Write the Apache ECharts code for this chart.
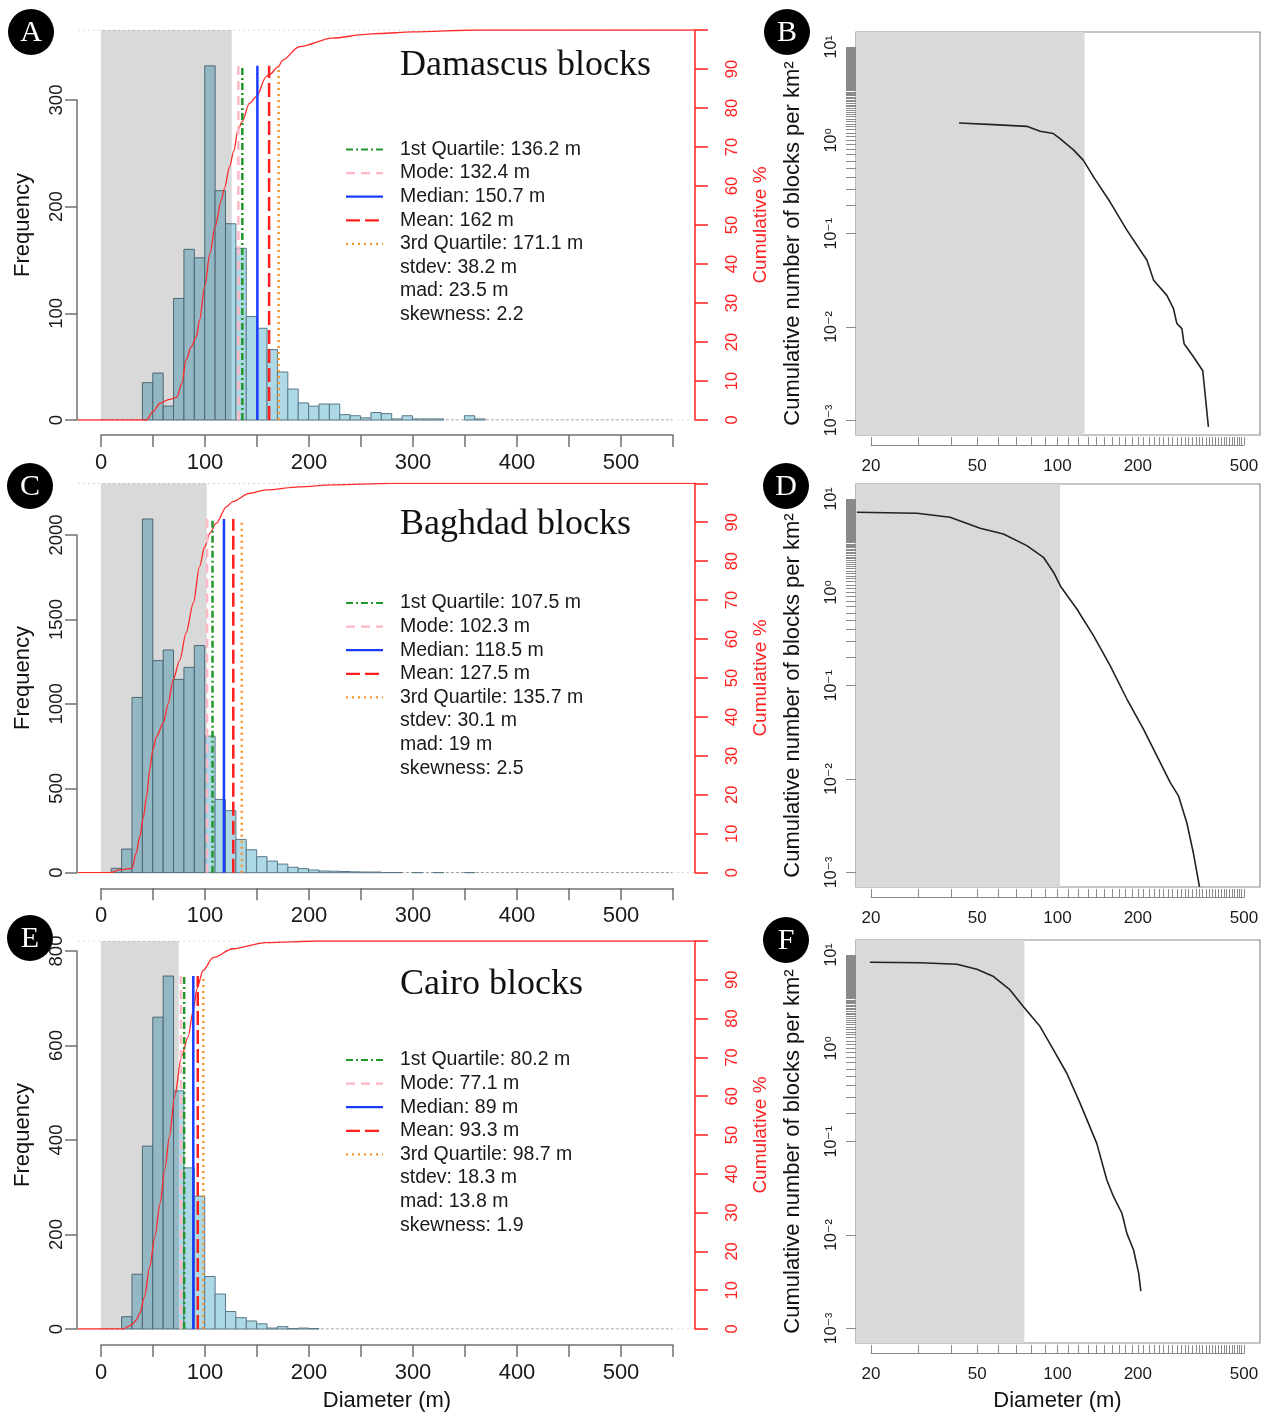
<!DOCTYPE html>
<html>
<head>
<meta charset="utf-8">
<title>Block diameter distributions</title>
<script src="https://cdn.jsdelivr.net/npm/echarts@6.0.0/dist/echarts.min.js"></script>
<style>
  html, body { margin: 0; padding: 0; background: #fff; }
  #chart { width: 1266px; height: 1414px; }
</style>
</head>
<body>
<div id="chart"></div>
<script>
// ---------- values ----------
const binWidth = 10;

const damascusBinStart = 40;
const damascusCounts = [35, 44, 13, 114, 160, 152, 332, 215, 184, 161, 97, 86, 66, 45, 29, 16, 13, 15, 15, 5, 4, 2, 7, 6, 1, 4, 1, 1, 1, 0, 0, 4, 1];
const baghdadBinStart = 10;
const baghdadCounts = [26, 140, 1038, 2095, 1256, 1319, 1145, 1216, 1345, 809, 434, 367, 197, 136, 95, 69, 51, 32, 24, 16, 10, 9, 7, 5, 4, 4, 1, 1, 0, 1, 0, 1, 0, 0, 1];
const cairoBinStart = 20;
const cairoCounts = [26, 116, 387, 660, 747, 504, 341, 281, 111, 74, 37, 24, 17, 11, 2, 5, 1, 2, 1];

const statNames = ['1st Quartile', 'Mode', 'Median', 'Mean', '3rd Quartile'];
const damascusStats = [136.2, 132.4, 150.7, 162, 171.1];
const baghdadStats = [107.5, 102.3, 118.5, 127.5, 135.7];
const cairoStats = [80.2, 77.1, 89, 93.3, 98.7];

const spreadNames = ['stdev', 'mad', 'skewness'];
const damascusSpread = ['38.2 m', '23.5 m', '2.2'];
const baghdadSpread = ['30.1 m', '19 m', '2.5'];
const cairoSpread = ['18.3 m', '13.8 m', '1.9'];

// upper end of the shaded diameter range (m)
const greyLimit = [126, 102, 75];

// cumulative % curves [diameter, percent]
const damascusCum = [[-22, 0], [44, 0], [50, 2.1], [57, 4.3], [66, 5.3], [73, 5.8], [78, 9.4], [82, 15.4], [87, 18.8], [92, 21.4], [95, 25.6], [100, 34.2], [105, 42.7], [110, 49.6], [116, 56.4], [119, 59.4], [124, 65], [128, 69], [132, 74.4], [136, 76.5], [143, 81.2], [150, 83], [159, 88], [162, 88.5], [171, 90.6], [175, 92.3], [191, 95.7], [223, 97.9], [255, 98.9], [268, 99.1], [300, 99.5], [364, 100], [572, 100]];
const baghdadCum = [[-22, 0], [9, 0], [18, 0.7], [30, 1.1], [34, 5], [37.5, 9.3], [41, 14.4], [44, 19.5], [47, 26.4], [50, 31.5], [53.5, 34.9], [60, 38.4], [65, 43.5], [69.5, 49.5], [76, 54.6], [82, 61.5], [89, 69.2], [95, 78.6], [100, 83.7], [105, 87.2], [111, 89.7], [121, 94], [127, 95.3], [143, 97.4], [159, 98.3], [191, 99.1], [223, 99.6], [280, 100], [572, 100]];
const cairoCum = [[-22, 0], [21, 0], [29.5, 1], [34, 2.3], [37.5, 4], [42, 8.3], [47, 16], [52, 23.8], [57, 32.4], [61.5, 41], [66, 49.6], [71, 59.9], [77.6, 70.2], [84, 75.3], [89, 82.2], [92.6, 87.8], [98.4, 92.4], [108, 95.7], [127, 98], [159, 99.6], [210, 100], [572, 100]];

// cumulative number of blocks per km2 [diameter, density]
const damascusDensity = [[42.7, 1.53], [57.4, 1.47], [76.6, 1.41], [85.9, 1.25], [96.3, 1.18], [102, 1.04], [114.5, 0.79], [124.8, 0.61], [136.1, 0.405], [157.1, 0.218], [181.5, 0.109], [215.8, 0.0518], [228.6, 0.0316], [256.2, 0.0218], [271.3, 0.0157], [279.3, 0.0109], [291.6, 0.0096], [297.3, 0.0066], [322.2, 0.0048], [349.2, 0.0034], [366.6, 0.00085]];
const baghdadDensity = [[17.7, 7.2], [29.7, 7.02], [39.5, 6.36], [51.2, 4.85], [62.6, 4.22], [76.6, 3.16], [88.4, 2.37], [96.4, 1.64], [103, 1.13], [117.9, 0.662], [136.1, 0.343], [157.1, 0.164], [181.5, 0.0719], [209.4, 0.0343], [241.8, 0.0151], [263.6, 0.0092], [283.2, 0.0066], [304.3, 0.0034], [322.2, 0.0016], [339.5, 0.0007]];
const cairoDensity = [[19.8, 8.34], [30.5, 8.26], [41.9, 7.94], [49.8, 7.02], [57.5, 5.86], [66.3, 4.22], [74.4, 2.79], [85.9, 1.71], [96.4, 0.96], [108.1, 0.54], [121.3, 0.257], [140, 0.0959], [152.7, 0.0388], [161.8, 0.0257], [173.9, 0.0171], [181.5, 0.0104], [192.3, 0.0069], [200.9, 0.0039], [204.7, 0.0025]];

// tick labels
const densityXLabels = [20, 50, 100, 200, 500];
const densityYLabels = [0.001, 0.01, 0.1, 1, 10];
const densityXTicks = [];
for (let d = 20; d <= 500; d += 10) densityXTicks.push(d);
const densityYTicks = [0.001, 0.01, 0.1];
for (let k = 2; k <= 100; k++) densityYTicks.push(k / 10);
const supers = { '-3': '⁻³', '-2': '⁻²', '-1': '⁻¹', '0': '⁰', '1': '¹' };

// ---------- styles ----------
const SANS = '"Liberation Sans", Arial, "DejaVu Sans", sans-serif';
const SERIF = '"Liberation Serif", "Times New Roman", serif';
const statColors = ['#23962a', '#ffb8c6', '#1a3cff', '#ff1e1e', '#f5962a'];
const statDash = [[7, 3, 2, 3], [9, 6], 'solid', [14, 5], [2, 4]];

const histPanels = [
  { title: 'Damascus blocks', start: damascusBinStart, counts: damascusCounts, stats: damascusStats, spread: damascusSpread, cum: damascusCum, grey: greyLimit[0],
    plotTop: 30, base: 420, tickTop: 300, tickStep: 100, tickTopY: 100, xOff: 15, titleY: 66, legendY: 149.5 },
  { title: 'Baghdad blocks', start: baghdadBinStart, counts: baghdadCounts, stats: baghdadStats, spread: baghdadSpread, cum: baghdadCum, grey: greyLimit[1],
    plotTop: 483.3, base: 872.7, tickTop: 2000, tickStep: 500, tickTopY: 535, xOff: 15.6, titleY: 525, legendY: 603 },
  { title: 'Cairo blocks', start: cairoBinStart, counts: cairoCounts, stats: cairoStats, spread: cairoSpread, cum: cairoCum, grey: greyLimit[2],
    plotTop: 941, base: 1329, tickTop: 800, tickStep: 200, tickTopY: 951, xOff: 16, titleY: 985, legendY: 1060 }
];
const densityPanels = [
  { data: damascusDensity, grey: greyLimit[0], top: 32 },
  { data: baghdadDensity, grey: greyLimit[1], top: 484 },
  { data: cairoDensity, grey: greyLimit[2], top: 940 }
];

const grids = [], xAxes = [], yAxes = [], series = [], graphics = [];
function addGrid(g) { grids.push(Object.assign({ containLabel: false, outerBoundsMode: 'none' }, g)); return grids.length - 1; }
function addX(a) { xAxes.push(a); return xAxes.length - 1; }
function addY(a) { yAxes.push(a); return yAxes.length - 1; }
const hidden = { axisLine: { show: false }, axisTick: { show: false }, axisLabel: { show: false }, splitLine: { show: false } };

// ---------- histogram panels ----------
histPanels.forEach(function (p, i) {
  const freqMax = p.tickTop * (p.base - p.plotTop) / (p.base - p.tickTopY);
  const gPlot = addGrid({ left: 78, top: p.plotTop, width: 617, height: p.base - p.plotTop });
  const xPlot = addX(Object.assign({ gridIndex: gPlot, type: 'value', min: -22, max: 572 }, hidden));
  const yFreq = addY(Object.assign({ gridIndex: gPlot, type: 'value', position: 'left', min: 0, max: freqMax,
    name: 'Frequency', nameLocation: 'middle', nameRotate: 90, nameGap: 44, nameMoveOverlap: false,
    nameTextStyle: { fontFamily: SANS, fontSize: 22, color: '#111' } }, hidden));
  const yCum = addY({ gridIndex: gPlot, type: 'value', position: 'right', min: 0, max: 100, interval: 10,
    axisLine: { show: true, onZero: false, lineStyle: { color: '#ff2020', width: 1.5 } },
    axisTick: { show: true, length: 13, lineStyle: { color: '#ff2020', width: 1.5 } },
    axisLabel: { rotate: 90, margin: 29, fontFamily: SANS, fontSize: 16.5, color: '#ff2020', hideOverlap: false,
      formatter: function (v) { return v === 100 ? '' : String(v); } },
    splitLine: { show: false },
    name: 'Cumulative %', nameLocation: 'middle', nameRotate: 90, nameGap: 56, nameMoveOverlap: false,
    nameTextStyle: { fontFamily: SANS, fontSize: 19, color: '#ff2020' } });

  // axes drawn R style: detached from the plot region
  const gAx = addGrid({ left: 101, width: 572, top: p.tickTopY, height: p.base - p.tickTopY });
  addX({ gridIndex: gAx, type: 'value', min: 0, max: 550, interval: 50, offset: p.xOff,
    axisLine: { onZero: false, lineStyle: { color: '#707070', width: 1.5 } },
    axisTick: { length: 12, lineStyle: { color: '#707070', width: 1.5 } },
    axisLabel: { margin: 17, fontFamily: SANS, fontSize: 22, color: '#1a1a1a', hideOverlap: false,
      formatter: function (v) { return (v % 100 === 0 && v <= 500) ? String(v) : ''; } },
    splitLine: { show: false },
    name: i === 2 ? 'Diameter (m)' : '', nameLocation: 'middle', nameGap: 45, nameMoveOverlap: false,
    nameTextStyle: { fontFamily: SANS, fontSize: 22, color: '#111' } });
  addY({ gridIndex: gAx, type: 'value', min: 0, max: p.tickTop, interval: p.tickStep, offset: 24,
    axisLine: { show: true, onZero: false, lineStyle: { color: '#707070', width: 1.5 } },
    axisTick: { show: true, length: 12, lineStyle: { color: '#707070', width: 1.5 } },
    axisLabel: { rotate: 90, margin: 11, fontFamily: SANS, fontSize: 18.5, color: '#1a1a1a', hideOverlap: false,
      formatter: function (v) { return String(v); } },
    splitLine: { show: false } });

  // zero baseline of the empty bins and faint guides
  series.push({ type: 'line', xAxisIndex: xPlot, yAxisIndex: yFreq, data: [[0, 0], [550, 0]], symbol: 'none', silent: true, z: 1,
    lineStyle: { color: '#8a8a8a', width: 1, type: [3, 2] } });
  series.push({ type: 'line', xAxisIndex: xPlot, yAxisIndex: yCum, data: [[-22, 100], [572, 100]], symbol: 'none', silent: true, z: 1,
    lineStyle: { color: '#d0d0d0', width: 1, type: [2, 3] } });
  series.push({ type: 'line', xAxisIndex: xPlot, yAxisIndex: yCum, data: [[550, 0], [572, 0]], symbol: 'none', silent: true, z: 1,
    lineStyle: { color: '#d0d0d0', width: 1, type: [2, 3] } });

  // histogram bars
  const bins = [];
  p.counts.forEach(function (c, k) { if (c > 0) bins.push([p.start + k * binWidth, p.start + (k + 1) * binWidth, c]); });
  series.push({ type: 'custom', xAxisIndex: xPlot, yAxisIndex: yFreq, data: bins, encode: { x: [0, 1], y: 2 }, z: 2, silent: true,
    renderItem: function (params, api) {
      const tl = api.coord([api.value(0), api.value(2)]);
      const br = api.coord([api.value(1), 0]);
      return { type: 'rect', shape: { x: tl[0], y: tl[1], width: br[0] - tl[0], height: br[1] - tl[1] },
        style: { fill: '#add8e6', stroke: '#5a7987', lineWidth: 1 } };
    } });

  // shaded range
  series.push({ type: 'custom', xAxisIndex: xPlot, yAxisIndex: yFreq, data: [[0, p.grey]], encode: { x: [0, 1] }, z: 3, silent: true,
    renderItem: function (params, api) {
      const cs = params.coordSys;
      const a = api.coord([api.value(0), 0]);
      const b = api.coord([api.value(1), 0]);
      return { type: 'rect', shape: { x: a[0], y: cs.y, width: b[0] - a[0], height: cs.height },
        style: { fill: 'rgba(0,0,0,0.15)' } };
    } });

  // cumulative curve
  series.push({ type: 'line', xAxisIndex: xPlot, yAxisIndex: yCum, data: p.cum, symbol: 'none', silent: true, z: 4,
    smooth: 0.3, smoothMonotone: 'x',
    lineStyle: { color: '#ff2a2a', width: 1.3 } });

  // statistics lines
  const top = Math.max.apply(null, p.counts);
  p.stats.forEach(function (v, k) {
    series.push({ type: 'line', xAxisIndex: xPlot, yAxisIndex: yFreq, data: [[v, 0], [v, top]], symbol: 'none', silent: true, z: 5,
      lineStyle: { color: statColors[k], width: 2.5, type: statDash[k] } });
  });

  // title and legend
  graphics.push({ type: 'text', x: 400, y: p.titleY, z: 10,
    style: { text: p.title, font: '36px ' + SERIF, fill: '#111', verticalAlign: 'middle' } });
  const step = 23.6;
  statNames.forEach(function (n, k) {
    const y = p.legendY + k * step;
    graphics.push({ type: 'line', z: 10, shape: { x1: 346, y1: y, x2: 383, y2: y },
      style: { stroke: statColors[k], lineWidth: 2.2, lineDash: statDash[k] === 'solid' ? null : statDash[k] } });
    graphics.push({ type: 'text', x: 400, y: y, z: 10,
      style: { text: n + ': ' + p.stats[k] + ' m', font: '19.5px ' + SANS, fill: '#1a1a1a', verticalAlign: 'middle' } });
  });
  spreadNames.forEach(function (n, k) {
    const y = p.legendY + (k + 5) * step;
    graphics.push({ type: 'text', x: 400, y: y, z: 10,
      style: { text: n + ': ' + p.spread[k], font: '19.5px ' + SANS, fill: '#1a1a1a', verticalAlign: 'middle' } });
  });
});

// ---------- cumulative density panels ----------
densityPanels.forEach(function (p, j) {
  const boxH = 403;
  const gBox = addGrid({ left: 856, top: p.top, width: 404, height: boxH, show: true, borderColor: '#8c8c8c', borderWidth: 1.2, backgroundColor: 'transparent' });
  const xBox = addX(Object.assign({ gridIndex: gBox, type: 'log', min: 17.56, max: 572 }, hidden));
  const yBox = addY({ gridIndex: gBox, type: 'log', min: Math.pow(10, -3.157), max: Math.pow(10, 1.16),
    axisLine: { show: false },
    axisTick: { show: true, length: 10, customValues: densityYTicks, lineStyle: { color: '#8a8a8a', width: 1 } },
    axisLabel: { customValues: densityYLabels, rotate: 90, margin: 16, fontFamily: SANS, fontSize: 16, color: '#1a1a1a', hideOverlap: false,
      formatter: function (v) { return '10' + supers[String(Math.round(Math.log10(v)))]; } },
    splitLine: { show: false },
    name: 'Cumulative number of blocks per km²', nameLocation: 'middle', nameRotate: 90, nameGap: 52, nameMoveOverlap: false,
    nameTextStyle: { fontFamily: SANS, fontSize: 22, color: '#111', padding: [0, 20, 0, 0] } });

  const gRx = addGrid({ left: 871, width: 373, top: p.top, height: boxH });
  addX({ gridIndex: gRx, type: 'log', min: 20, max: 500, offset: 10,
    axisLine: { onZero: false, lineStyle: { color: '#8a8a8a', width: 1.2 } },
    axisTick: { inside: true, length: 8, customValues: densityXTicks, lineStyle: { color: '#8a8a8a', width: 1 } },
    axisLabel: { customValues: densityXLabels, margin: 13, fontFamily: SANS, fontSize: 17, color: '#1a1a1a', hideOverlap: false },
    splitLine: { show: false },
    name: j === 2 ? 'Diameter (m)' : '', nameLocation: 'middle', nameGap: 37, nameMoveOverlap: false,
    nameTextStyle: { fontFamily: SANS, fontSize: 22, color: '#111' } });
  addY(Object.assign({ gridIndex: gRx, type: 'value', min: 0, max: 1 }, hidden));

  series.push({ type: 'custom', xAxisIndex: xBox, yAxisIndex: yBox, data: [[p.grey, 1]], encode: { x: 0, y: 1 }, z: 1, silent: true,
    renderItem: function (params, api) {
      const cs = params.coordSys;
      const b = api.coord([api.value(0), 1]);
      return { type: 'rect', shape: { x: cs.x, y: cs.y, width: b[0] - cs.x, height: cs.height }, style: { fill: '#d9d9d9' } };
    } });
  series.push({ type: 'line', xAxisIndex: xBox, yAxisIndex: yBox, data: p.data, symbol: 'none', silent: true, z: 3,
    lineStyle: { color: '#222', width: 1.6 } });
});

// ---------- panel letters ----------
const letterPos = [['A', 31, 32], ['B', 787, 32], ['C', 30, 486], ['D', 786, 486], ['E', 30, 938], ['F', 786, 940]];
letterPos.forEach(function (l) {
  graphics.push({ type: 'circle', z: 20, shape: { cx: l[1], cy: l[2], r: 23 }, style: { fill: '#000' } });
  graphics.push({ type: 'text', z: 21, x: l[1], y: l[2] + 1,
    style: { text: l[0], font: '30px ' + SERIF, fill: '#fff', align: 'center', verticalAlign: 'middle' } });
});

const chart = echarts.init(document.getElementById('chart'), null, { renderer: 'canvas' });
chart.setOption({
  animation: false,
  backgroundColor: '#fff',
  grid: grids,
  xAxis: xAxes,
  yAxis: yAxes,
  series: series,
  graphic: graphics
});
</script>
</body>
</html>
